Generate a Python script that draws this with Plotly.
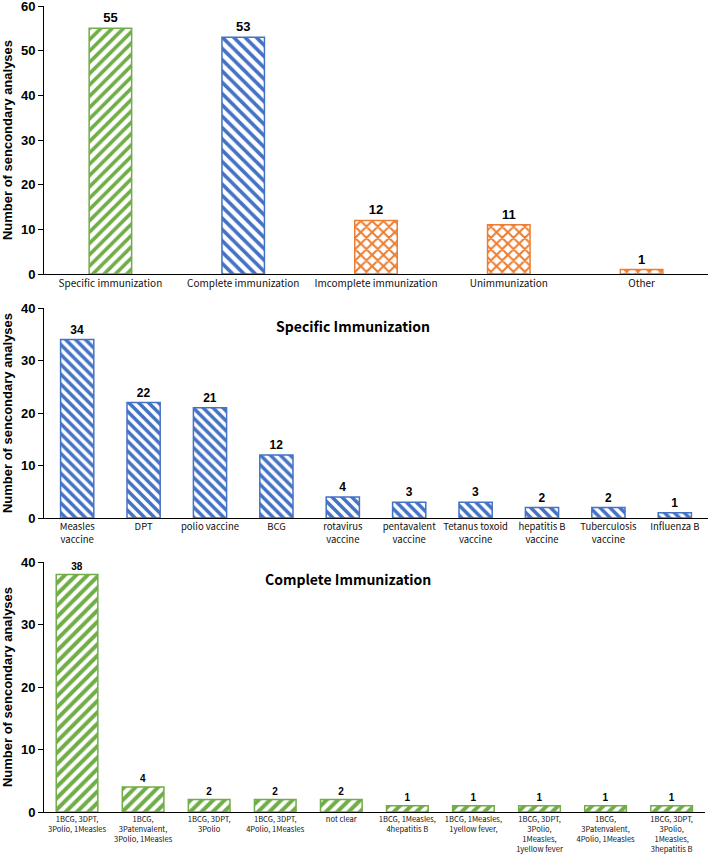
import plotly.graph_objects as go

# Panel 1
cat1 = ["Specific immunization", "Complete immunization", "Imcomplete immunization", "Unimmunization", "Other"]
val1 = [55, 53, 12, 11, 1]
col1 = ["#70AD47", "#4472C4", "#ED7D31", "#ED7D31", "#ED7D31"]
pat1 = ["/", "\\", "x", "x", "x"]

# Panel 2
cat2 = ["Measles<br>vaccine", "DPT", "polio vaccine", "BCG", "rotavirus<br>vaccine",
        "pentavalent<br>vaccine", "Tetanus toxoid<br>vaccine", "hepatitis B<br>vaccine",
        "Tuberculosis<br>vaccine", "Influenza B"]
val2 = [34, 22, 21, 12, 4, 3, 3, 2, 2, 1]

# Panel 3
cat3 = ["1BCG, 3DPT,<br>3Polio, 1Measles", "1BCG,<br>3Patenvalent,<br>3Polio, 1Measles",
        "1BCG, 3DPT,<br>3Polio", "1BCG, 3DPT,<br>4Polio, 1Measles", "not clear",
        "1BCG, 1Measles,<br>4hepatitis B", "1BCG, 1Measles,<br>1yellow fever,",
        "1BCG, 3DPT,<br>3Polio,<br>1Measles,<br>1yellow fever",
        "1BCG,<br>3Patenvalent,<br>4Polio, 1Measles",
        "1BCG, 3DPT,<br>3Polio,<br>1Measles,<br>3hepatitis B"]
val3 = [38, 4, 2, 2, 2, 1, 1, 1, 1, 1]

GREEN = "#70AD47"
BLUE = "#4472C4"

fig = go.Figure()

NUMFONT = "Liberation Sans, Arial, sans-serif"
CATFONT = "Noto Sans CJK SC, sans-serif"

fig.add_trace(go.Bar(
    x=cat1, y=val1, xaxis="x", yaxis="y", width=0.32,
    marker=dict(color="white", line=dict(color=col1, width=1.5),
                pattern=dict(shape=pat1, fgcolor=col1, bgcolor="white", fgopacity=1,
                             size=8, solidity=0.45)),
    text=val1, textposition="outside", cliponaxis=False,
    textfont=dict(family=NUMFONT, size=13, color="black", weight="bold"),
    showlegend=False))

fig.add_trace(go.Bar(
    x=cat2, y=val2, xaxis="x2", yaxis="y2", width=0.5,
    marker=dict(color="white", line=dict(color=BLUE, width=1.5),
                pattern=dict(shape="\\", fgcolor=BLUE, bgcolor="white", fgopacity=1,
                             size=7, solidity=0.5)),
    text=val2, textposition="outside", cliponaxis=False,
    textfont=dict(family=NUMFONT, size=12, color="black", weight="bold"),
    showlegend=False))

fig.add_trace(go.Bar(
    x=cat3, y=val3, xaxis="x3", yaxis="y3", width=0.63,
    marker=dict(color="white", line=dict(color=GREEN, width=1.5),
                pattern=dict(shape="/", fgcolor=GREEN, bgcolor="white", fgopacity=1,
                             size=8, solidity=0.5)),
    text=val3, textposition="outside", cliponaxis=False,
    textfont=dict(family=NUMFONT, size=10, color="black", weight="bold"),
    showlegend=False))

H = 806.0
def dom(top_px, bot_px):
    return [(812 - bot_px) / H, (812 - top_px) / H]

xcommon = dict(type="category", showline=True, linecolor="black", linewidth=1,
               ticks="", showgrid=False, zeroline=False, tickangle=0, automargin=False,
               ticklabeloverflow="allow")
ycommon = dict(showline=True, linecolor="black", linewidth=1, ticks="outside", ticklen=5,
               tickcolor="black", showgrid=False, zeroline=False, dtick=10, automargin=False,
               ticklabeloverflow="allow",
               tickfont=dict(family=NUMFONT, size=13, color="black", weight="bold"),
               title=dict(text="Number of sencondary analyses",
                          font=dict(family=NUMFONT, size=13, color="black", weight="bold"),
                          standoff=6))

fig.update_layout(
    width=709, height=854,
    margin=dict(l=44, r=1, t=6, b=42),
    paper_bgcolor="white", plot_bgcolor="white",
    xaxis=dict(domain=[0, 1], anchor="y", tickfont=dict(family=CATFONT, size=10, color="#111"), **xcommon),
    yaxis=dict(domain=dom(6, 274), anchor="x", range=[0, 60], **ycommon),
    xaxis2=dict(domain=[0, 1], anchor="y2", tickfont=dict(family=CATFONT, size=9.5, color="#111"), **xcommon),
    yaxis2=dict(domain=dom(308, 518), anchor="x2", range=[0, 40], **ycommon),
    xaxis3=dict(domain=[0, 0.995], anchor="y3", tickfont=dict(family=CATFONT, size=7.6, color="#111"), **xcommon),
    yaxis3=dict(domain=dom(562, 812), anchor="x3", range=[0, 40], **ycommon),
    annotations=[
        dict(text="<b>Specific Immunization</b>", xref="x2 domain", yref="y2 domain",
             x=0.465, y=0.97, showarrow=False, font=dict(family=CATFONT, size=14, color="black")),
        dict(text="<b>Complete Immunization</b>", xref="x3 domain", yref="y3 domain",
             x=0.46, y=0.98, showarrow=False, font=dict(family=CATFONT, size=14, color="black")),
    ],
)

fig.write_html("out.html", config={"displayModeBar": False},
               post_script="document.body.style.margin='0px';")
